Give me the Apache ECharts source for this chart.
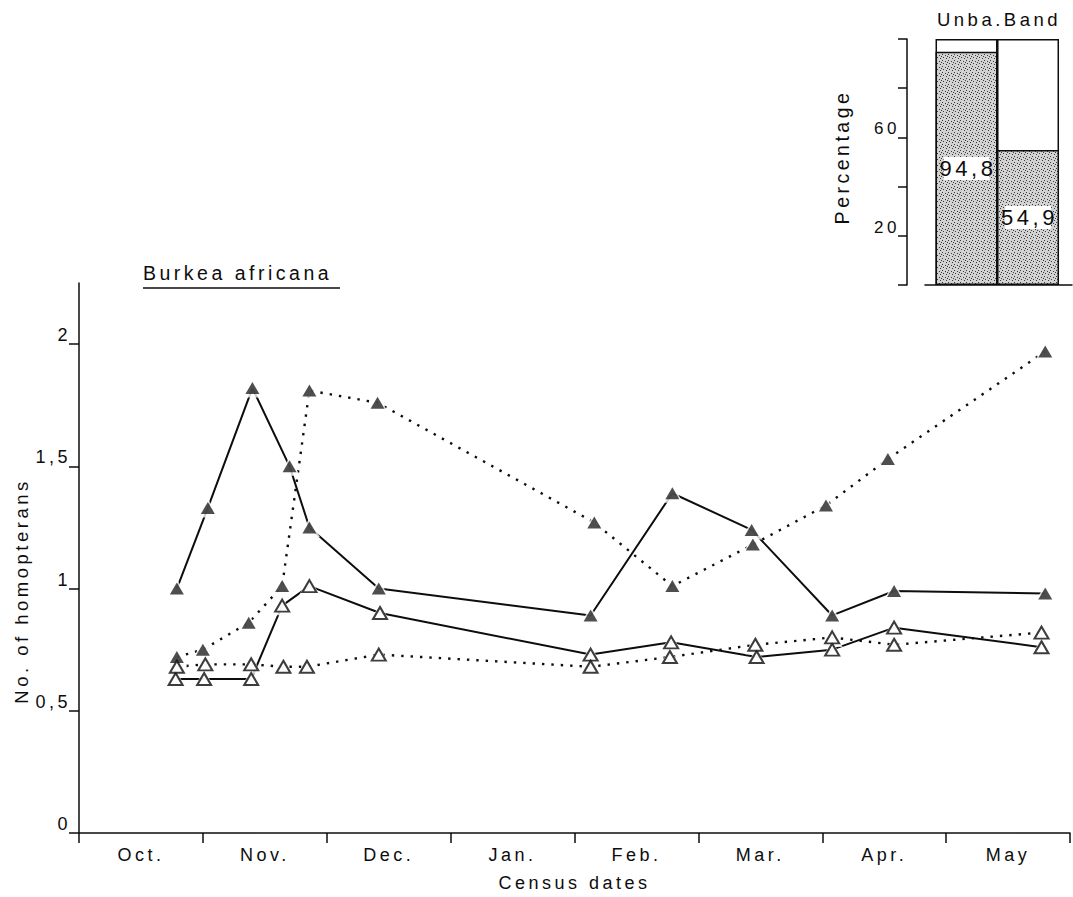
<!DOCTYPE html>
<html>
<head>
<meta charset="utf-8">
<script src="https://cdn.jsdelivr.net/npm/echarts@6/dist/echarts.min.js"></script>
<style>
  html, body { margin: 0; padding: 0; background: #fff; }
  #chart { width: 1073px; height: 897px; }
  /* widely tracked lettering throughout */
  #chart text { letter-spacing: 3.5px; }
</style>
</head>
<body>
<div id="chart"></div>
<script>
// Month labels of the census season and y-axis tick values
const months = ['Oct.', 'Nov.', 'Dec.', 'Jan.', 'Feb.', 'Mar.', 'Apr.', 'May'];
const yTicks = [0, 0.5, 1, 1.5, 2];

// Census dates, in months counted from 1 October
const datesFilledSolid  = [0.79, 1.04, 1.40, 1.70, 1.86, 2.42, 4.13, 4.79, 5.43, 6.08, 6.58, 7.80];
const datesFilledDotted = [0.79, 1.00, 1.37, 1.64, 1.86, 2.41, 4.16, 4.79, 5.44, 6.03, 6.53, 7.80];
const datesOpenSolid    = [0.78, 1.01, 1.39, 1.64, 1.86, 2.43, 4.13, 4.78, 5.47, 6.08, 6.58, 7.77];
const datesOpenDotted   = [0.79, 1.02, 1.39, 1.65, 1.84, 2.42, 4.13, 4.77, 5.46, 6.08, 6.58, 7.77];

// Number of homopterans per census
const countsFilledSolid  = [1.00, 1.33, 1.82, 1.50, 1.25, 1.00, 0.89, 1.39, 1.24, 0.89, 0.99, 0.98];
const countsFilledDotted = [0.72, 0.75, 0.86, 1.01, 1.81, 1.76, 1.27, 1.01, 1.18, 1.34, 1.53, 1.97];
const countsOpenSolid    = [0.63, 0.63, 0.63, 0.93, 1.01, 0.90, 0.73, 0.78, 0.72, 0.75, 0.84, 0.76];
const countsOpenDotted   = [0.68, 0.69, 0.69, 0.68, 0.68, 0.73, 0.68, 0.72, 0.77, 0.80, 0.77, 0.82];

// Inset: percentage share, unbanded vs banded trees
const bandGroups = ['Unba.', 'Band'];
const bandPercent = [94.8, 54.9];
const bandTotal = 100;
const bandTicks = [20, 60];

const INK = '#0d0d0d';
const FONT = '"Liberation Sans", Arial, Helvetica, sans-serif';
const comma = v => String(v).replace('.', ',');
const pairs = (xs, ys) => xs.map((x, i) => [x, ys[i]]);
const txt = size => ({ color: INK, fontFamily: FONT, fontSize: size });

// light grey stipple used to fill the inset bars
function stipple() {
  const c = document.createElement('canvas');
  c.width = 6; c.height = 6;
  const g = c.getContext('2d');
  g.fillStyle = '#d2d2d2';
  g.fillRect(0, 0, 6, 6);
  g.fillStyle = '#3a3a3a';
  [[0, 0], [3, 1], [1, 3], [4, 4], [5, 2]].forEach(([x, y]) => g.fillRect(x, y, 1, 1));
  return { image: c, repeat: 'repeat', imageWidth: 6, imageHeight: 6 };
}

const lineSets = [
  { name: 'filled, solid',  x: datesFilledSolid,  y: countsFilledSolid,  dotted: false, filled: true },
  { name: 'filled, dotted', x: datesFilledDotted, y: countsFilledDotted, dotted: true,  filled: true },
  { name: 'open, solid',    x: datesOpenSolid,    y: countsOpenSolid,    dotted: false, filled: false },
  { name: 'open, dotted',   x: datesOpenDotted,   y: countsOpenDotted,   dotted: true,  filled: false }
];

const series = [];
lineSets.forEach(s => {
  series.push({
    name: s.name, type: 'line', xAxisIndex: 0, yAxisIndex: 0,
    data: pairs(s.x, s.y), symbol: 'none', z: 1, silent: true,
    lineStyle: { color: INK, width: s.dotted ? 2.4 : 2, type: s.dotted ? [2.4, 7] : 'solid' }
  });
});
// white halos leave a small gap where a line meets a marker
lineSets.forEach(s => {
  series.push({
    name: s.name + ' halo', type: 'scatter', xAxisIndex: 0, yAxisIndex: 0,
    data: pairs(s.x, s.y), symbol: 'triangle', symbolSize: [21, 19], z: 2, silent: true,
    itemStyle: { color: '#fff' }
  });
});
lineSets.forEach(s => {
  series.push({
    name: s.name + ' marker', type: 'scatter', xAxisIndex: 0, yAxisIndex: 0,
    data: pairs(s.x, s.y), symbol: 'triangle', z: 3, silent: true,
    symbolSize: [14, 12],
    itemStyle: s.filled
      ? { color: '#222' }
      : { color: '#fff', borderColor: INK, borderWidth: 2 }
  });
});

// inset bars: white full-height column, stippled share drawn over it
series.push({
  name: 'total', type: 'bar', xAxisIndex: 2, yAxisIndex: 1,
  barWidth: 62, barGap: '-100%',
  data: bandPercent.map((v, i) => [i + 1, bandTotal]),
  itemStyle: { color: '#fff', borderColor: INK, borderWidth: 1.5 }
});
series.push({
  name: 'share', type: 'bar', xAxisIndex: 2, yAxisIndex: 1,
  barWidth: 62, barGap: '-100%',
  data: bandPercent.map((v, i) => [i + 1, v]),
  itemStyle: { color: stipple(), borderColor: INK, borderWidth: 1.5 },
  label: Object.assign({
    show: true, position: 'inside', formatter: p => comma(p.value[1]),
    backgroundColor: '#fff', padding: [1, 0, 0, 3]
  }, txt(22))
});

const axisLine = { show: true, lineStyle: { color: INK, width: 1.5 } };

const option = {
  animation: false,
  backgroundColor: '#fff',
  grid: [
    { left: 79, right: 3, top: 283, bottom: 57 },
    { left: 925, right: 1, top: 39, bottom: 612 }
  ],
  xAxis: [
    {
      type: 'value', gridIndex: 0, min: 0, max: 8, interval: 1,
      axisLine, axisTick: { show: true, length: 10, lineStyle: { color: INK, width: 1.5 } },
      axisLabel: { show: false }, splitLine: { show: false },
      name: 'Census dates', nameLocation: 'middle', nameGap: 41,
      nameTextStyle: txt(18)
    },
    {
      type: 'category', gridIndex: 0, position: 'bottom', data: months,
      axisLine: { show: false }, axisTick: { show: false },
      axisLabel: Object.assign({ margin: 13 }, txt(18))
    },
    {
      type: 'value', gridIndex: 1, min: 0.325, max: 2.715,
      axisLine, axisTick: { show: false }, axisLabel: { show: false },
      splitLine: { show: false }
    }
  ],
  yAxis: [
    {
      type: 'value', gridIndex: 0, min: 0, max: 2.25,
      axisLine,
      axisTick: { show: true, length: 10, customValues: yTicks, lineStyle: { color: INK, width: 1.5 } },
      axisLabel: Object.assign({ customValues: yTicks, formatter: comma, margin: 8, verticalAlign: 'bottom', lineHeight: 18 }, txt(18)),
      splitLine: { show: false },
      name: 'No. of homopterans', nameLocation: 'middle', nameGap: 48,
      nameTextStyle: Object.assign({ padding: [0, 66, 0, 0] }, txt(18.5))
    },
    {
      type: 'value', gridIndex: 1, min: 0, max: bandTotal, interval: 20, offset: 18,
      axisLine,
      axisTick: { show: true, length: 9, lineStyle: { color: INK, width: 1.5 } },
      axisLabel: Object.assign({
        formatter: v => (bandTicks.includes(v) ? String(v) : ''),
        margin: 7, verticalAlign: 'bottom', lineHeight: 17
      }, txt(17)),
      splitLine: { show: false },
      name: 'Percentage', nameLocation: 'middle', nameGap: 55,
      nameTextStyle: Object.assign({ padding: [0, 0, 0, 10] }, txt(19.5))
    }
  ],
  graphic: [
    {
      type: 'text', x: 143, y: 263,
      style: { text: 'Burkea africana', font: '19.5px ' + FONT, fill: INK }
    },
    {
      type: 'line', shape: { x1: 143, y1: 288, x2: 340, y2: 288 },
      style: { stroke: INK, lineWidth: 1.5 }
    },
    {
      type: 'text', x: 999, y: 10,
      style: { text: bandGroups.join(''), font: '18.5px ' + FONT, fill: INK, textAlign: 'center' }
    }
  ],
  series
};

const chart = echarts.init(document.getElementById('chart'), null, { renderer: 'svg' });
chart.setOption(option);
</script>
</body>
</html>
